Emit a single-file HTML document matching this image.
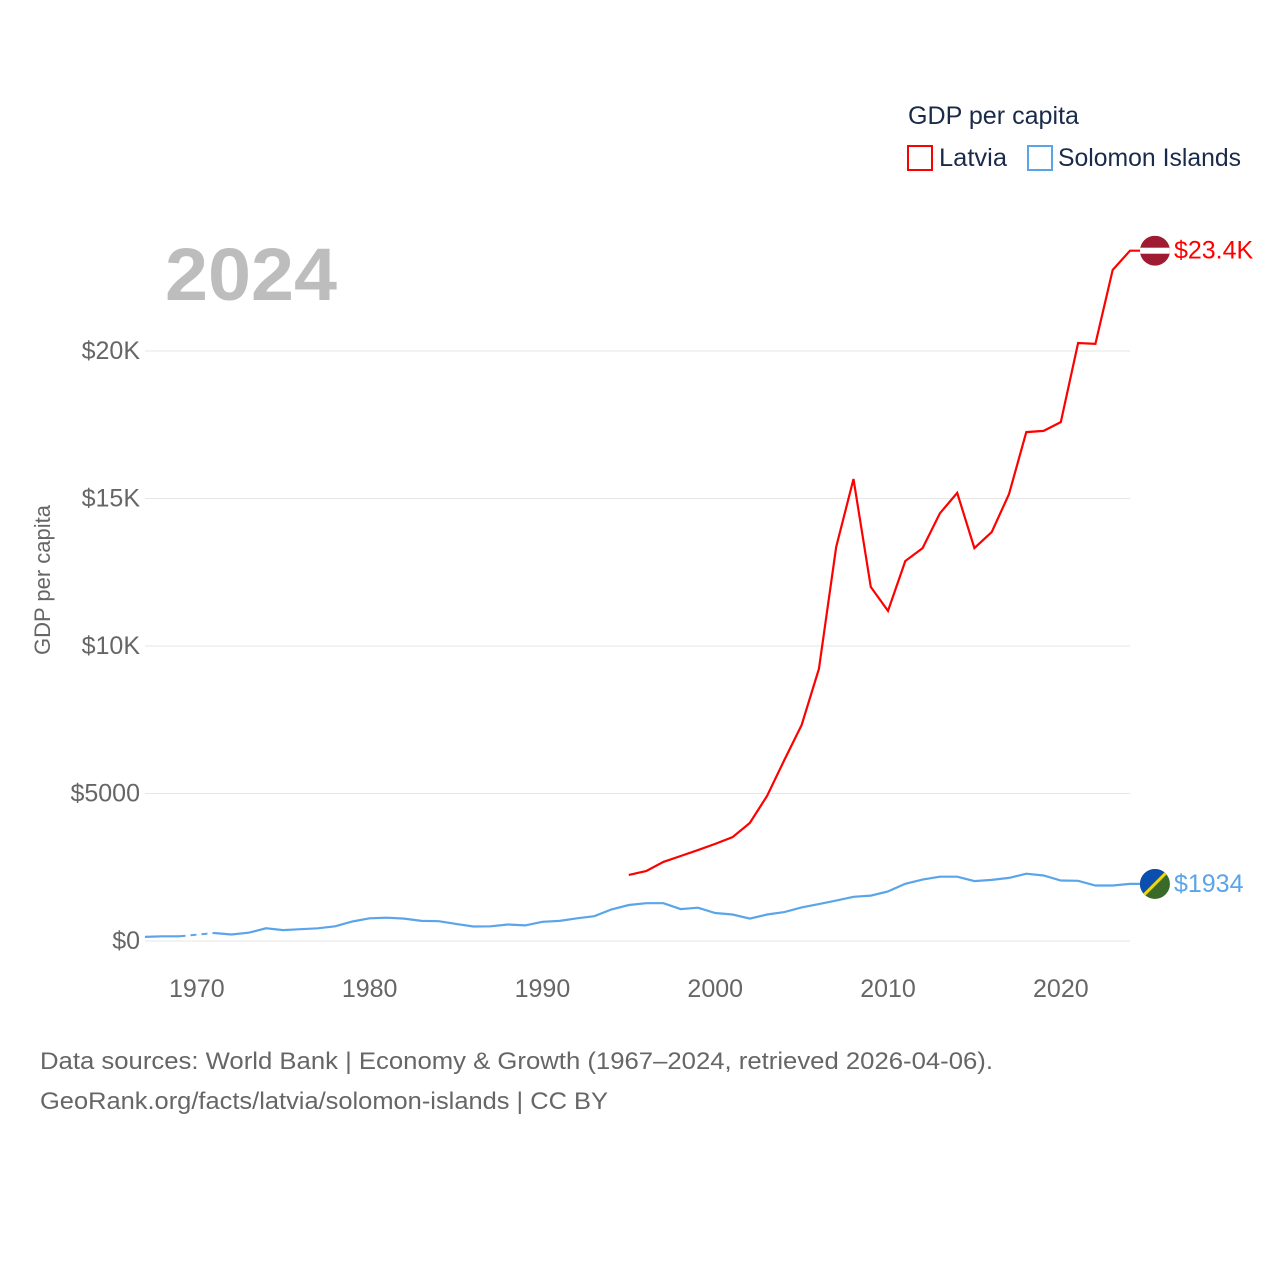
<!DOCTYPE html>
<html><head><meta charset="utf-8"><style>
body{margin:0;background:#fff;font-family:"Liberation Sans",sans-serif}
svg text{font-family:"Liberation Sans",sans-serif}
</style></head><body>
<svg id="chart" width="1280" height="1280" xmlns="http://www.w3.org/2000/svg">
<text x="908" y="124" font-size="25" fill="#1a2a4a" textLength="171" lengthAdjust="spacingAndGlyphs">GDP per capita</text>
<g><rect x="908" y="146" width="24" height="24" fill="none" stroke="#f00" stroke-width="2"/><text x="939" y="166" font-size="25" fill="#1a2a4a" textLength="68" lengthAdjust="spacingAndGlyphs">Latvia</text></g>
<g><rect x="1028" y="146" width="24" height="24" fill="none" stroke="#5aa5ea" stroke-width="2"/><text x="1058" y="166" font-size="25" fill="#1a2a4a" textLength="183" lengthAdjust="spacingAndGlyphs">Solomon Islands</text></g>
<text x="165" y="300" font-size="74" font-weight="bold" fill="#bdbdbd" textLength="172" lengthAdjust="spacingAndGlyphs">2024</text>
<text transform="translate(50,580) rotate(-90)" text-anchor="middle" font-size="22" fill="#666">GDP per capita</text>
<g id="grid"></g><g id="xt"></g><g id="lines"></g>
<text x="40" y="1069" font-size="24" fill="#666" textLength="953" lengthAdjust="spacingAndGlyphs">Data sources: World Bank | Economy &amp; Growth (1967–2024, retrieved 2026-04-06).</text>
<text x="40" y="1109" font-size="24" fill="#666" textLength="568" lengthAdjust="spacingAndGlyphs">GeoRank.org/facts/latvia/solomon-islands | CC BY</text>
</svg>
<script>
const yTicks=[0,5000,10000,15000,20000];
const yTickLabels=["$0","$5000","$10K","$15K","$20K"];
const xTicks=[1970,1980,1990,2000,2010,2020];
const latviaYears=[1995,1996,1997,1998,1999,2000,2001,2002,2003,2004,2005,2006,2007,2008,2009,2010,2011,2012,2013,2014,2015,2016,2017,2018,2019,2020,2021,2022,2023,2024];
const latviaValues=[2240,2370,2680,2880,3080,3290,3520,4000,4920,6140,7320,9220,13360,15660,12000,11190,12880,13320,14500,15190,13320,13860,15150,17250,17290,17590,20270,20240,22750,23400];
const solYears=[1967,1968,1969,1971,1972,1973,1974,1975,1976,1977,1978,1979,1980,1981,1982,1983,1984,1985,1986,1987,1988,1989,1990,1991,1992,1993,1994,1995,1996,1997,1998,1999,2000,2001,2002,2003,2004,2005,2006,2007,2008,2009,2010,2011,2012,2013,2014,2015,2016,2017,2018,2019,2020,2021,2022,2023,2024];
const solValues=[140,160,160,270,220,280,430,370,400,430,500,660,770,790,760,680,670,580,490,500,560,530,650,680,770,840,1070,1220,1280,1280,1080,1130,950,900,760,900,980,1140,1250,1370,1500,1540,1680,1940,2080,2180,2180,2030,2070,2140,2280,2220,2050,2040,1880,1880,1934];
const X=y=>145+(y-1967)*17.28, Y=v=>941-v*0.0295;
const NS="http://www.w3.org/2000/svg";
function mk(t,a,p){const e=document.createElementNS(NS,t);for(const k in a)e.setAttribute(k,a[k]);p.appendChild(e);return e;}
const grid=document.getElementById('grid'),xt=document.getElementById('xt'),lines=document.getElementById('lines');
yTicks.forEach((v,i)=>{
 const l=mk('line',{x1:145,x2:1130,y1:Y(v),y2:Y(v),stroke:'#e6e6e6','stroke-width':1},grid);
 
 
 const t=mk('text',{x:140,y:Y(v)+8,'text-anchor':'end','font-size':25,fill:'#666'},grid);t.textContent=yTickLabels[i];
 
 
});
xTicks.forEach(v=>{
 const t=mk('text',{x:X(v),y:997,'text-anchor':'middle','font-size':25,fill:'#666'},xt);t.textContent=v;
 
 
});
function path(ys,vs,color,name){
 let d='';
 for(let i=0;i<ys.length;i++){
  if(i>0&&ys[i]-ys[i-1]>1){
   const g=mk('line',{x1:X(ys[i-1]),y1:Y(vs[i-1]),x2:X(ys[i]),y2:Y(vs[i]),stroke:color,'stroke-width':2,'stroke-dasharray':'6,5'},lines);
   
   
   d+='M';
  } else d+=(i?'L':'M');
  d+=X(ys[i]).toFixed(1)+','+Y(vs[i]).toFixed(1);
 }
 const last=ys.length-1;
 d+='L'+(X(ys[last])+10).toFixed(1)+','+Y(vs[last]).toFixed(1);
 const p=mk('path',{d:d,fill:'none',stroke:color,'stroke-width':2.2},lines);
 
 
}
path(solYears,solValues,'#5aa5ea','solomon-islands');
path(latviaYears,latviaValues,'#f00','latvia');
const lv=latviaValues[latviaValues.length-1],ly=Y(lv),lx=X(2024)+25;
const lg=mk('g',{},lines);


const c1=mk('clipPath',{id:'c1'},lg);mk('circle',{cx:lx,cy:ly,r:15},c1);
mk('rect',{x:lx-15,y:ly-15,width:30,height:30,fill:'#9e1b32','clip-path':'url(#c1)'},lg);
mk('rect',{x:lx-15,y:ly-3,width:30,height:6,fill:'#fff','clip-path':'url(#c1)'},lg);
const lt=mk('text',{x:lx+19,y:ly+8,'font-size':25,fill:'#f00'},lines);lt.textContent='$23.4K';


const sv=solValues[solValues.length-1],sy=Y(sv),sx=X(2024)+25;
const sg=mk('g',{},lines);


const c2=mk('clipPath',{id:'c2'},sg);mk('circle',{cx:sx,cy:sy,r:15},c2);
mk('rect',{x:sx-15,y:sy-15,width:30,height:30,fill:'#3a6a2a','clip-path':'url(#c2)'},sg);
mk('polygon',{points:`${sx-15},${sy-15} ${sx+15},${sy-15} ${sx-15},${sy+15}`,fill:'#0a4fb0','clip-path':'url(#c2)'},sg);
mk('line',{x1:sx-15,y1:sy+15,x2:sx+15,y2:sy-15,stroke:'#f5d800','stroke-width':3,'clip-path':'url(#c2)'},sg);
const st=mk('text',{x:sx+19,y:sy+8,'font-size':25,fill:'#5aa5ea'},lines);st.textContent='$'+sv;


</script>
</body></html>
